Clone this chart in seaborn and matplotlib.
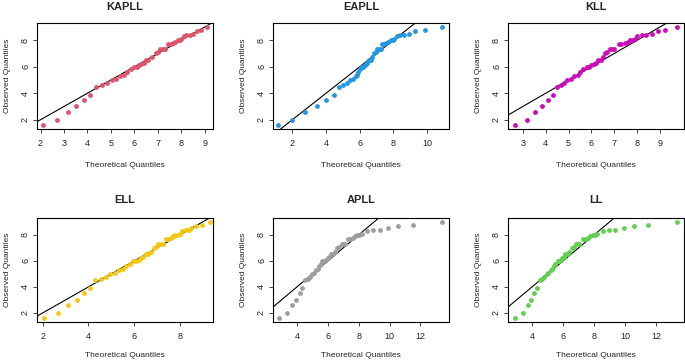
import seaborn as sns
import matplotlib.pyplot as plt
import pandas as pd

# observed quantiles (same sample in every panel)
observed = [1.6, 2.0, 2.6, 3.0, 3.5, 3.9, 4.5, 4.6, 4.8, 5.0, 5.1, 5.3, 5.4, 5.6,
            5.8, 6.0, 6.0, 6.1, 6.2, 6.3, 6.5, 6.5, 6.7, 7.0, 7.1, 7.3, 7.3, 7.3,
            7.7, 7.7, 7.8, 7.9, 8.0, 8.0, 8.1, 8.3, 8.4, 8.4, 8.5, 8.7, 8.8, 9.0]

# theoretical quantiles per fitted distribution
kapll = [2.1, 2.7, 3.15, 3.5, 3.85, 4.1, 4.35, 4.6, 4.85, 5.05, 5.2, 5.4, 5.55, 5.7,
         5.85, 6.0, 6.1, 6.2, 6.3, 6.4, 6.5, 6.6, 6.75, 6.9, 7.0, 7.1, 7.2, 7.3,
         7.45, 7.55, 7.65, 7.75, 7.85, 7.95, 8.0, 8.1, 8.2, 8.35, 8.5, 8.65, 8.85, 9.1]
eapll = [1.15, 2.0, 2.75, 3.45, 4.0, 4.45, 4.75, 5.0, 5.25, 5.45, 5.6, 5.75, 5.85, 5.9,
         6.0, 6.1, 6.2, 6.3, 6.35, 6.45, 6.55, 6.65, 6.75, 6.85, 6.95, 7.05, 7.15, 7.25,
         7.3, 7.45, 7.55, 7.7, 7.85, 7.95, 8.05, 8.2, 8.4, 8.6, 8.9, 9.3, 9.85, 10.9]
kll = [2.65, 3.2, 3.55, 3.85, 4.1, 4.3, 4.5, 4.65, 4.8, 4.95, 5.1, 5.25, 5.4, 5.5,
       5.65, 5.8, 5.9, 6.0, 6.1, 6.2, 6.3, 6.4, 6.5, 6.6, 6.7, 6.8, 6.9, 7.0,
       7.2, 7.3, 7.45, 7.6, 7.7, 7.8, 7.9, 8.0, 8.2, 8.4, 8.65, 8.9, 9.2, 9.75]
ell = [2.05, 2.65, 3.1, 3.5, 3.8, 4.05, 4.3, 4.55, 4.75, 4.95, 5.15, 5.35, 5.5, 5.65,
       5.8, 5.95, 6.1, 6.2, 6.3, 6.4, 6.5, 6.6, 6.75, 6.85, 6.95, 7.05, 7.15, 7.25,
       7.4, 7.5, 7.6, 7.7, 7.8, 7.9, 8.0, 8.1, 8.25, 8.4, 8.5, 8.7, 8.95, 9.3]
apll = [2.85, 3.35, 3.7, 3.95, 4.2, 4.35, 4.55, 4.7, 4.85, 5.0, 5.1, 5.25, 5.35, 5.45,
        5.55, 5.65, 5.8, 5.9, 6.0, 6.1, 6.2, 6.35, 6.45, 6.6, 6.75, 6.9, 7.0, 7.1,
        7.3, 7.45, 7.6, 7.75, 7.9, 8.05, 8.2, 8.55, 8.9, 9.35, 9.9, 10.55, 11.5, 13.4]
ll = [2.9, 3.4, 3.75, 3.95, 4.15, 4.35, 4.5, 4.65, 4.8, 4.95, 5.05, 5.2, 5.3, 5.4,
      5.5, 5.65, 5.75, 5.85, 5.95, 6.05, 6.15, 6.3, 6.4, 6.55, 6.7, 6.85, 6.95, 7.05,
      7.3, 7.45, 7.6, 7.75, 7.9, 8.05, 8.2, 8.6, 8.95, 9.35, 9.9, 10.55, 11.5, 13.35]

panels = ['KAPLL', 'EAPLL', 'KLL', 'ELL', 'APLL', 'LL']
theoretical = [kapll, eapll, kll, ell, apll, ll]
colors = ['#DF536B', '#2297E6', '#CD0BBC', '#F5C710', '#9E9E9E', '#61D04F']
xlims = [(1.85, 9.35), (0.85, 11.3), (2.35, 10.05), (1.75, 9.45), (2.45, 13.85), (2.45, 13.8)]
xticks = [[2, 3, 4, 5, 6, 7, 8, 9], [2, 4, 6, 8, 10], [3, 4, 5, 6, 7, 8, 9],
          [2, 4, 6, 8], [4, 6, 8, 10, 12], [4, 6, 8, 10, 12]]

sns.set_style('white')
plt.rcParams['font.family'] = ['Liberation Sans', 'DejaVu Sans']

W, H = 685, 361
fig = plt.figure(figsize=(W / 100, H / 100), dpi=100)

lefts = [37, 273, 508]
rows = [(23, 129), (218, 322)]

for i, name in enumerate(panels):
    r, c = divmod(i, 3)
    top, bot = rows[r]
    ax = fig.add_axes([lefts[c] / W, 1 - bot / H, 176 / W, (bot - top) / H])
    df = pd.DataFrame({'theo': theoretical[i], 'obs': observed})
    sns.scatterplot(data=df, x='theo', y='obs', color=colors[i], s=12,
                    linewidth=0, ax=ax, zorder=3)
    ax.axline((0, 0), slope=1, color='black', lw=0.8, zorder=2)
    ax.set_xlim(*xlims[i])
    ax.set_ylim(1.3, 9.3)
    ax.set_xticks(xticks[i])
    ax.set_yticks([2, 4, 6, 8])
    for s in ax.spines.values():
        s.set_color('black')
        s.set_linewidth(0.8)
    ax.tick_params(axis='both', direction='out', length=3, width=0.6,
                   labelsize=6.5, pad=2, bottom=True, left=True)
    ax.tick_params(axis='x', pad=4)
    plt.setp(ax.get_yticklabels(), rotation=90, va='center')
    ax.set_xlabel('Theoretical Quantiles', fontsize=6, labelpad=10 if r == 0 else 8)
    ax.set_ylabel('Observed Quantiles', fontsize=6, labelpad=7)
    ax.set_title(name, fontsize=8, fontweight='bold', pad=9.5 if r == 0 else 11)

plt.savefig('out.png', dpi=100)
